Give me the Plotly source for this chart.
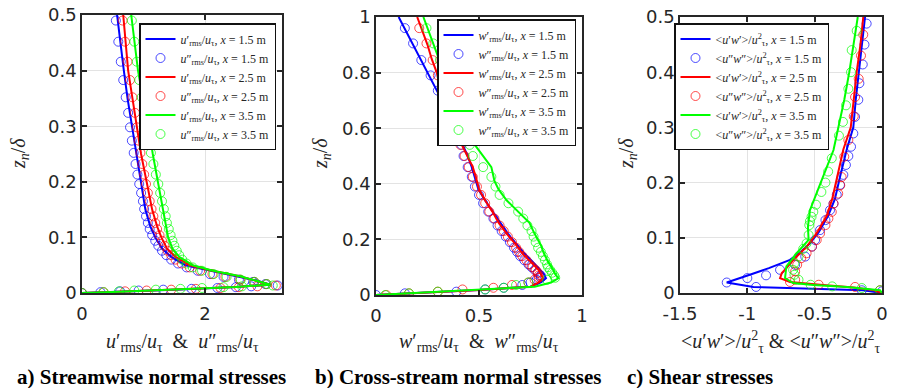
import plotly.graph_objects as go

W, H = 901, 388

# ---------------- Panel a: streamwise normal stresses ----------------
A_LINE_Y = [0.5, 0.45, 0.4, 0.35, 0.3, 0.25, 0.2, 0.15, 0.12, 0.1, 0.08, 0.065, 0.05, 0.04, 0.03, 0.022, 0.015, 0.011, 0.006, 0.002, 0.0]
A_LINE_X15 = [0.57, 0.62, 0.68, 0.74, 0.81, 0.88, 0.95, 1.03, 1.11, 1.19, 1.30, 1.45, 1.68, 2.10, 2.55, 2.85, 3.06, 2.5, 1.5, 0.5, 0.0]
A_LINE_X25 = [0.67, 0.71, 0.75, 0.82, 0.89, 0.96, 1.05, 1.14, 1.22, 1.29, 1.38, 1.52, 1.75, 2.12, 2.56, 2.85, 3.06, 2.5, 1.5, 0.5, 0.0]
A_LINE_X35 = [0.80, 0.85, 0.91, 0.99, 1.08, 1.15, 1.23, 1.31, 1.36, 1.40, 1.47, 1.58, 1.80, 2.13, 2.57, 2.85, 3.06, 2.5, 1.5, 0.5, 0.0]

A_MK_Y = [0.49, 0.452, 0.416, 0.383, 0.352, 0.324, 0.298, 0.274, 0.252, 0.232, 0.213, 0.196, 0.18, 0.165, 0.151,
          0.138, 0.126, 0.115, 0.104, 0.094, 0.085, 0.076, 0.068, 0.06, 0.053, 0.046, 0.04, 0.034, 0.029, 0.024,
          0.02, 0.016, 0.0135, 0.012, 0.0105, 0.009, 0.0075, 0.006, 0.0045, 0.003, 0.0015, 0.0]
A_MK_X15 = [0.55, 0.59, 0.63, 0.67, 0.71, 0.75, 0.78, 0.81, 0.84, 0.87, 0.90, 0.93, 0.96, 0.99, 1.01,
            1.04, 1.07, 1.10, 1.14, 1.19, 1.24, 1.30, 1.37, 1.45, 1.56, 1.70, 1.88, 2.08, 2.30, 2.55,
            2.78, 2.98, 3.18, 2.75, 2.5, 2.2, 1.78, 1.32, 0.92, 0.62, 0.3, 0.0]
A_MK_X25 = [0.66, 0.70, 0.74, 0.78, 0.82, 0.86, 0.89, 0.92, 0.95, 0.98, 1.01, 1.04, 1.07, 1.10, 1.13,
            1.16, 1.19, 1.22, 1.26, 1.30, 1.34, 1.39, 1.45, 1.52, 1.62, 1.75, 1.92, 2.12, 2.33, 2.57,
            2.80, 3.00, 3.15, 2.85, 2.55, 2.25, 1.85, 1.45, 1.05, 0.7, 0.35, 0.0]
A_MK_X35 = [0.81, 0.85, 0.89, 0.93, 0.97, 1.01, 1.04, 1.08, 1.12, 1.16, 1.20, 1.24, 1.27, 1.30, 1.33,
            1.36, 1.38, 1.41, 1.44, 1.47, 1.50, 1.54, 1.58, 1.63, 1.70, 1.80, 1.95, 2.14, 2.35, 2.58,
            2.80, 3.00, 3.10, 2.6, 2.3, 1.95, 1.6, 1.2, 0.85, 0.6, 0.35, 0.0]

# ---------------- Panel b: cross-stream normal stresses ----------------
B_LINE_Y = [1.0, 0.95, 0.9, 0.85, 0.8, 0.75, 0.7, 0.65, 0.6, 0.55, 0.5, 0.46, 0.41, 0.38, 0.34, 0.3, 0.26, 0.22,
            0.18, 0.15, 0.12, 0.09, 0.075, 0.06, 0.045, 0.03, 0.018, 0.01, 0.0]
B_LINE_X15 = [0.11, 0.145, 0.18, 0.215, 0.25, 0.285, 0.32, 0.35, 0.385, 0.415, 0.445, 0.465, 0.485, 0.497, 0.53,
              0.566, 0.60, 0.64, 0.685, 0.72, 0.76, 0.80, 0.815, 0.825, 0.80, 0.75, 0.5, 0.27, 0.0]
B_LINE_X25 = [0.20, 0.225, 0.25, 0.27, 0.295, 0.31, 0.33, 0.355, 0.38, 0.41, 0.445, 0.47, 0.49, 0.50, 0.53,
              0.565, 0.595, 0.635, 0.68, 0.71, 0.75, 0.79, 0.80, 0.81, 0.79, 0.75, 0.5, 0.27, 0.0]
B_LINE_X35 = [0.23, 0.255, 0.28, 0.305, 0.33, 0.35, 0.37, 0.40, 0.43, 0.47, 0.52, 0.56, 0.575, 0.595, 0.635,
              0.69, 0.745, 0.77, 0.80, 0.815, 0.835, 0.86, 0.87, 0.885, 0.85, 0.77, 0.48, 0.25, 0.0]

B_MK_Y = [0.96, 0.905, 0.845, 0.79, 0.735, 0.68, 0.635, 0.58, 0.54, 0.5, 0.46, 0.425, 0.39, 0.36, 0.33, 0.3,
          0.275, 0.25, 0.23, 0.21, 0.19, 0.17, 0.155, 0.14, 0.125, 0.11, 0.1, 0.09, 0.08, 0.07, 0.062, 0.055,
          0.045, 0.036, 0.026, 0.02, 0.012, 0.006, 0.0]
B_MK_X15 = [0.14, 0.18, 0.22, 0.265, 0.30, 0.33, 0.37, 0.397, 0.415, 0.425, 0.445, 0.465, 0.48, 0.50, 0.52, 0.545,
            0.57, 0.59, 0.61, 0.63, 0.65, 0.67, 0.685, 0.70, 0.72, 0.74, 0.755, 0.77, 0.785, 0.80, 0.80, 0.78,
            0.75, 0.71, 0.62, 0.53, 0.39, 0.14, 0.0]
B_MK_X25 = [0.21, 0.245, 0.275, 0.30, 0.32, 0.335, 0.355, 0.39, 0.41, 0.43, 0.45, 0.47, 0.49, 0.51, 0.53, 0.55,
            0.575, 0.60, 0.62, 0.64, 0.66, 0.68, 0.695, 0.71, 0.73, 0.745, 0.76, 0.775, 0.785, 0.79, 0.79, 0.77,
            0.74, 0.66, 0.57, 0.42, 0.30, 0.16, 0.05]
B_MK_X35 = [0.245, 0.278, 0.31, 0.33, 0.35, 0.375, 0.40, 0.43, 0.455, 0.47, 0.52, 0.56, 0.58, 0.60, 0.643, 0.69,
            0.715, 0.735, 0.755, 0.765, 0.775, 0.787, 0.80, 0.81, 0.82, 0.83, 0.835, 0.845, 0.855, 0.865, 0.87,
            0.83, 0.74, 0.68, 0.62, 0.53, 0.30, 0.16, 0.045]

# ---------------- Panel c: shear stresses ----------------
C_LINE_Y15 = [0.5, 0.45, 0.4, 0.35, 0.3, 0.26, 0.21, 0.17, 0.14, 0.11, 0.09, 0.075, 0.06, 0.045, 0.035, 0.027,
              0.019, 0.011, 0.008, 0.005, 0.0]
C_LINE_X15 = [-0.126, -0.15, -0.176, -0.195, -0.213, -0.262, -0.312, -0.35, -0.40, -0.47, -0.535, -0.60, -0.683,
              -0.84, -0.96, -1.06, -1.153, -0.955, -0.51, -0.14, 0.0]
C_LINE_Y25 = [0.5, 0.45, 0.4, 0.35, 0.3, 0.26, 0.21, 0.17, 0.14, 0.11, 0.084, 0.06, 0.045, 0.036, 0.027, 0.02,
              0.015, 0.01, 0.005, 0.0]
C_LINE_X25 = [-0.139, -0.16, -0.188, -0.21, -0.232, -0.287, -0.336, -0.37, -0.41, -0.48, -0.559, -0.658, -0.71,
              -0.744, -0.757, -0.683, -0.46, -0.21, -0.06, 0.0]
C_LINE_Y35 = [0.5, 0.45, 0.4, 0.35, 0.3, 0.259, 0.228, 0.198, 0.174, 0.15, 0.12, 0.096, 0.072, 0.048, 0.027, 0.018,
              0.0145, 0.011, 0.005, 0.0]
C_LINE_X35 = [-0.18, -0.21, -0.243, -0.28, -0.324, -0.36, -0.41, -0.46, -0.497, -0.535, -0.55, -0.545, -0.634,
              -0.71, -0.72, -0.66, -0.51, -0.26, -0.015, 0.0]

C_MK_Y15 = [0.488, 0.45, 0.414, 0.38, 0.35, 0.319, 0.289, 0.265, 0.248, 0.232, 0.214, 0.196, 0.178, 0.162, 0.15,
            0.132, 0.114, 0.096, 0.084, 0.066, 0.051, 0.042, 0.032, 0.027, 0.019, 0.011, 0.005, 0.003]
C_MK_X15 = [-0.114, -0.13, -0.143, -0.168, -0.176, -0.2, -0.213, -0.23, -0.25, -0.268, -0.287, -0.312, -0.336,
            -0.36, -0.386, -0.42, -0.46, -0.497, -0.52, -0.57, -0.645, -0.757, -0.861, -1.0, -1.153, -0.935,
            -0.15, 0.0]
C_MK_Y25 = [0.468, 0.43, 0.388, 0.355, 0.32, 0.277, 0.247, 0.21, 0.195, 0.18, 0.162, 0.147, 0.135, 0.123, 0.108,
            0.096, 0.084, 0.072, 0.063, 0.051, 0.039, 0.024, 0.02, 0.015, 0.011, 0.005]
C_MK_X25 = [-0.139, -0.156, -0.173, -0.2, -0.21, -0.25, -0.28, -0.3, -0.31, -0.325, -0.36, -0.373, -0.398, -0.42,
            -0.46, -0.485, -0.52, -0.56, -0.6, -0.63, -0.645, -0.645, -0.683, -0.47, -0.2, -0.015]
C_MK_Y35 = [0.475, 0.44, 0.40, 0.37, 0.34, 0.31, 0.285, 0.244, 0.22, 0.2, 0.183, 0.16, 0.147, 0.138, 0.13, 0.123,
            0.105, 0.09, 0.08, 0.066, 0.054, 0.042, 0.033, 0.024, 0.015, 0.012, 0.009, 0.005]
C_MK_X35 = [-0.188, -0.225, -0.23, -0.25, -0.267, -0.29, -0.32, -0.373, -0.4, -0.42, -0.45, -0.49, -0.51, -0.523,
            -0.535, -0.54, -0.545, -0.56, -0.585, -0.62, -0.65, -0.66, -0.65, -0.62, -0.53, -0.37, -0.15, -0.015]

STATIONS = ["1.5", "2.5", "3.5"]
COLORS = ["#0000ff", "#ff0000", "#00ff00"]

SERIF = "Liberation Serif, Times New Roman, serif"
SANS = "DejaVu Sans, Arial, sans-serif"
INK = "#262626"

A_LINE_LBL = "<i>u</i>′<sub>rms</sub>/<i>u</i><sub>τ</sub>, <i>x</i> = {} m"
A_MK_LBL = "<i>u</i>″<sub>rms</sub>/<i>u</i><sub>τ</sub>, <i>x</i> = {} m"
B_LINE_LBL = "<i>w</i>′<sub>rms</sub>/<i>u</i><sub>τ</sub>, <i>x</i> = {} m"
B_MK_LBL = "<i>w</i>″<sub>rms</sub>/<i>u</i><sub>τ</sub>, <i>x</i> = {} m"
C_LINE_LBL = "&lt;<i>u</i>′<i>w</i>′&gt;/<i>u</i><sup>2</sup><sub>τ</sub>, <i>x</i> = {} m"
C_MK_LBL = "&lt;<i>u</i>″<i>w</i>″&gt;/<i>u</i><sup>2</sup><sub>τ</sub>, <i>x</i> = {} m"

X_TITLES = [
    "<i>u</i>′<sub>rms</sub>/<i>u</i><sub>τ</sub>  &amp;  <i>u</i>″<sub>rms</sub>/<i>u</i><sub>τ</sub>",
    "<i>w</i>′<sub>rms</sub>/<i>u</i><sub>τ</sub>  &amp;  <i>w</i>″<sub>rms</sub>/<i>u</i><sub>τ</sub>",
    "&lt;<i>u</i>′<i>w</i>′&gt;/<i>u</i><sup>2</sup><sub>τ</sub> &amp; &lt;<i>u</i>″<i>w</i>″&gt;/<i>u</i><sup>2</sup><sub>τ</sub>",
]
Y_TITLE = "<i>z<sub>n</sub></i>/<i>δ</i>"
CAPTIONS = ["a) Streamwise normal stresses", "b) Cross-stream normal stresses", "c) Shear stresses"]

panels = [
    dict(lines=[(A_LINE_X15, A_LINE_Y), (A_LINE_X25, A_LINE_Y), (A_LINE_X35, A_LINE_Y)],
         marks=[(A_MK_X15, A_MK_Y), (A_MK_X25, A_MK_Y), (A_MK_X35, A_MK_Y)],
         llbl=A_LINE_LBL, mlbl=A_MK_LBL),
    dict(lines=[(B_LINE_X15, B_LINE_Y), (B_LINE_X25, B_LINE_Y), (B_LINE_X35, B_LINE_Y)],
         marks=[(B_MK_X15, B_MK_Y), (B_MK_X25, B_MK_Y), (B_MK_X35, B_MK_Y)],
         llbl=B_LINE_LBL, mlbl=B_MK_LBL),
    dict(lines=[(C_LINE_X15, C_LINE_Y15), (C_LINE_X25, C_LINE_Y25), (C_LINE_X35, C_LINE_Y35)],
         marks=[(C_MK_X15, C_MK_Y15), (C_MK_X25, C_MK_Y25), (C_MK_X35, C_MK_Y35)],
         llbl=C_LINE_LBL, mlbl=C_MK_LBL),
]

# layout geometry in pixels
DOM_X = [(82, 282), (376, 582), (680, 882)]
DOM_Y = [(15, 293), (17, 295), (17, 293)]
X_RANGE = [[0, 3.25], [0, 1], [-1.5, 0]]
Y_RANGE = [[0, 0.5], [0, 1], [0, 0.5]]
X_TICKS = [[0, 2], [0, 0.5, 1], [-1.5, -1, -0.5, 0]]
X_TICKTEXT = [["0", "2"], ["0", "0.5", "1"], ["-1.5", "-1", "-0.5", "0"]]
Y_TICKS = [[0, 0.1, 0.2, 0.3, 0.4, 0.5], [0, 0.2, 0.4, 0.6, 0.8, 1], [0, 0.1, 0.2, 0.3, 0.4, 0.5]]
LEG_POS = [(276, 23), (576, 19), (829, 23)]
YTITLE_X = [20, 322, 628]
XTITLE_X = [182, 479, 781]
CAPTION_X = [15, 313, 625]

fig = go.Figure()
layout = dict(width=W, height=H, margin=dict(l=0, r=0, t=0, b=0, autoexpand=False), template="none",
              paper_bgcolor="white", plot_bgcolor="white", annotations=[], showlegend=True)

for p, panel in enumerate(panels):
    sfx = "" if p == 0 else str(p + 1)
    leg = "legend" if p == 0 else "legend" + str(p + 1)
    for i in range(3):
        lx, ly = panel["lines"][i]
        mx, my = panel["marks"][i]
        fig.add_trace(go.Scatter(x=lx, y=ly, mode="lines", xaxis="x" + sfx, yaxis="y" + sfx,
                                 line=dict(color=COLORS[i], width=2), name=panel["llbl"].format(STATIONS[i]),
                                 legend=leg))
        fig.add_trace(go.Scatter(x=mx, y=my, mode="markers", xaxis="x" + sfx, yaxis="y" + sfx,
                                 marker=dict(symbol="circle-open", size=9, color=COLORS[i],
                                             line=dict(width=1, color=COLORS[i]), opacity=0.7),
                                 name=panel["mlbl"].format(STATIONS[i]), legend=leg))
    axcommon = dict(showline=True, linecolor=INK, linewidth=1.5, mirror="ticks", ticks="inside",
                    ticklen=5, tickwidth=1.5, tickcolor=INK, showgrid=True, gridcolor="#e3e3e3",
                    gridwidth=1, zeroline=False, automargin=False,
                    tickfont=dict(family=SANS, size=18, color=INK))
    layout["xaxis" + sfx] = dict(axcommon, domain=[DOM_X[p][0] / W, DOM_X[p][1] / W], range=X_RANGE[p],
                                 tickvals=X_TICKS[p], ticktext=X_TICKTEXT[p], anchor="y" + sfx,
                                 ticklabelstandoff=4)
    layout["yaxis" + sfx] = dict(axcommon, domain=[1 - DOM_Y[p][1] / H, 1 - DOM_Y[p][0] / H], range=Y_RANGE[p],
                                 tickvals=Y_TICKS[p], anchor="x" + sfx)
    layout[leg] = dict(x=LEG_POS[p][0] / W, xanchor="right", y=1 - LEG_POS[p][1] / H, yanchor="top",
                       bgcolor="white", bordercolor="#111111", borderwidth=1.5,
                       font=dict(family=SERIF, size=12, color=INK), tracegroupgap=0, itemwidth=30)
    layout["annotations"].append(dict(text=X_TITLES[p], x=XTITLE_X[p] / W, y=1 - 342 / H, xref="paper",
                                      yref="paper", xanchor="center", yanchor="middle", showarrow=False,
                                      font=dict(family=SERIF, size=20, color=INK)))
    layout["annotations"].append(dict(text=Y_TITLE, x=YTITLE_X[p] / W, y=1 - 154 / H, xref="paper",
                                      yref="paper", xanchor="center", yanchor="middle", showarrow=False,
                                      textangle=-90, font=dict(family=SERIF, size=20, color=INK)))
    layout["annotations"].append(dict(text="<b>" + CAPTIONS[p] + "</b>", x=CAPTION_X[p] / W, y=1 - 377 / H,
                                      xref="paper", yref="paper", xanchor="left", yanchor="middle",
                                      showarrow=False, font=dict(family=SERIF, size=21, color="black")))

fig.update_layout(**layout)
fig.write_html("out.html")
